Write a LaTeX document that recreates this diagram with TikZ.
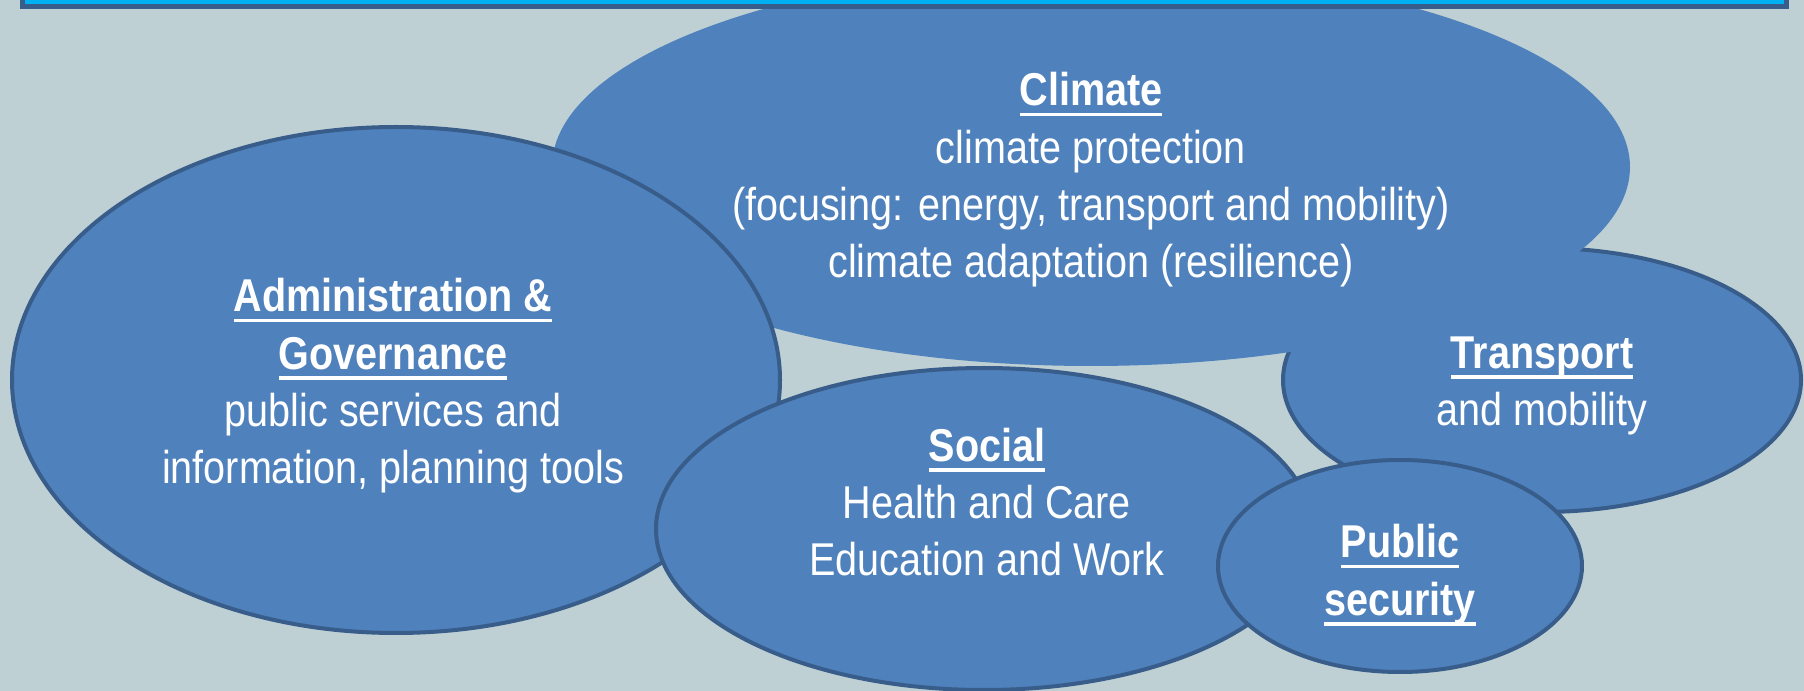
\documentclass[tikz,border=0pt]{standalone}
\usepackage{fontspec}
\setmainfont{Liberation Sans}[FakeStretch=0.86]
\usetikzlibrary{shapes.geometric}
\definecolor{bgc}{RGB}{190,208,211}
\definecolor{fillc}{RGB}{79,129,189}
\definecolor{edgec}{RGB}{56,93,138}
\definecolor{barc}{RGB}{0,176,240}
\newcommand\ttl[1]{\setbox0=\hbox{\bfseries #1}\rlap{\rule[-7.9pt]{\wd0}{2.6pt}}\box0}
\tikzset{
  bubble/.style={ellipse, fill=fillc, draw=edgec, line width=3pt, inner sep=0pt},
  bubblenoedge/.style={ellipse, fill=fillc, inner sep=0pt},
  label/.style={text=white, align=center, inner sep=0pt, font=\fontsize{34.5pt}{43pt}\selectfont},
}
\begin{document}
\begin{tikzpicture}[x=0.75pt,y=-0.75pt]
\useasboundingbox (0,0) rectangle (1804,691);
\fill[bgc] (0,0) rectangle (1804,691);
\begin{scope}
\clip (0,0) rectangle (1804,691);
\node[bubble, minimum width=388.5pt, minimum height=198pt] (transportE) at (1542,380) {};
\node[bubblenoedge, minimum width=808.5pt, minimum height=298.5pt] (climateE) at (1091,167) {};
\node[bubble, minimum width=576pt, minimum height=379.5pt] (adminE) at (396,380) {};
\node[bubble, minimum width=492pt, minimum height=241.5pt] (socialE) at (984,529) {};
\node[bubble, minimum width=273pt, minimum height=159pt] (securityE) at (1400,566) {};
\draw[fill=barc, draw=edgec, line width=3.75pt] (22.5,-10) rectangle (1786,6.5);
\end{scope}
\node[label] (climateT) at (1091,180) {\ttl{Climate}\\climate protection\\(focusing: energy, transport and mobility)\\climate adaptation (resilience)};
\node[label] (adminT) at (393,386) {\ttl{Administration \&}\\\ttl{Governance}\\public services and\\information, planning tools};
\node[label] (socialT) at (987,502) {\ttl{Social}\\Health and Care\\Education and Work};
\node[label] (transportT) at (1542,386) {\ttl{Transport}\\and mobility};
\node[label] (securityT) at (1400,575) {\ttl{Public}\\\ttl{security}};
\end{tikzpicture}
\end{document}
